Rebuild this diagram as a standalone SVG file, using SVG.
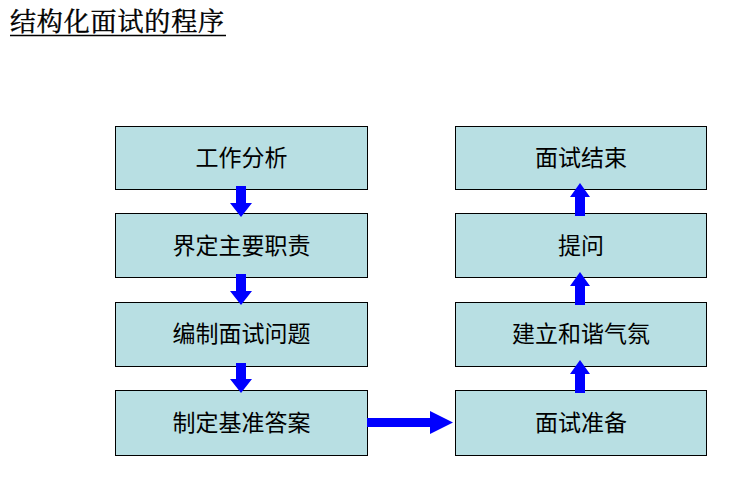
<svg xmlns="http://www.w3.org/2000/svg" width="744" height="481" viewBox="0 0 744 481">
<style>
.box{fill:#b8dfe3;stroke:#000;stroke-width:1}
.lbl{font-family:"Liberation Sans","Noto Sans CJK SC",sans-serif;font-size:23px;fill:#000;text-anchor:middle}
.arr{fill:#0000ff}
.title{font-family:"Liberation Serif","Noto Serif CJK SC","Noto Sans CJK SC",serif;font-size:26px;font-weight:normal;fill:#000;stroke:#000;stroke-width:0.4}
</style>
<rect width="744" height="481" fill="#fff"/>
<g id="title">
<text class="title" x="10" y="31" textLength="214" lengthAdjust="spacing">结构化面试的程序</text>
<line x1="10" y1="35.5" x2="226" y2="35.5" stroke="#000" stroke-width="1.5"/>
</g>
<g id="n1"><rect class="box" x="115.5" y="126.5" width="252" height="63"/><text class="lbl" x="241.5" y="166">工作分析</text></g>
<g id="n2"><rect class="box" x="115.5" y="213.5" width="252" height="64"/><text class="lbl" x="241.5" y="254">界定主要职责</text></g>
<g id="n3"><rect class="box" x="115.5" y="302.5" width="252" height="64"/><text class="lbl" x="241.5" y="342">编制面试问题</text></g>
<g id="n4"><rect class="box" x="115.5" y="390.5" width="252" height="65"/><text class="lbl" x="241.5" y="431">制定基准答案</text></g>
<g id="n5"><rect class="box" x="455.5" y="126.5" width="251" height="63"/><text class="lbl" x="581" y="166">面试结束</text></g>
<g id="n6"><rect class="box" x="455.5" y="213.5" width="251" height="64"/><text class="lbl" x="581" y="254">提问</text></g>
<g id="n7"><rect class="box" x="455.5" y="302.5" width="251" height="64"/><text class="lbl" x="581" y="342">建立和谐气氛</text></g>
<g id="n8"><rect class="box" x="455.5" y="390.5" width="251" height="65"/><text class="lbl" x="581" y="431">面试准备</text></g>
<g id="connectors">
<polygon class="arr" points="236,186 246,186 246,203 252,203 241,217 230,203 236,203"/>
<polygon class="arr" points="236,274 246,274 246,291 252,291 241,305 230,291 236,291"/>
<polygon class="arr" points="236,363 246,363 246,379 252,379 241,393 230,379 236,379"/>
<polygon class="arr" points="367,418 430,418 430,411 453,422.5 430,434 430,427 367,427"/>
<polygon class="arr" points="575,216 585,216 585,197 590,197 580,183 570,197 575,197"/>
<polygon class="arr" points="575,305 585,305 585,286 590,286 580,272 570,286 575,286"/>
<polygon class="arr" points="575,393 585,393 585,374 590,374 580,360 570,374 575,374"/>
</g>
</svg>
